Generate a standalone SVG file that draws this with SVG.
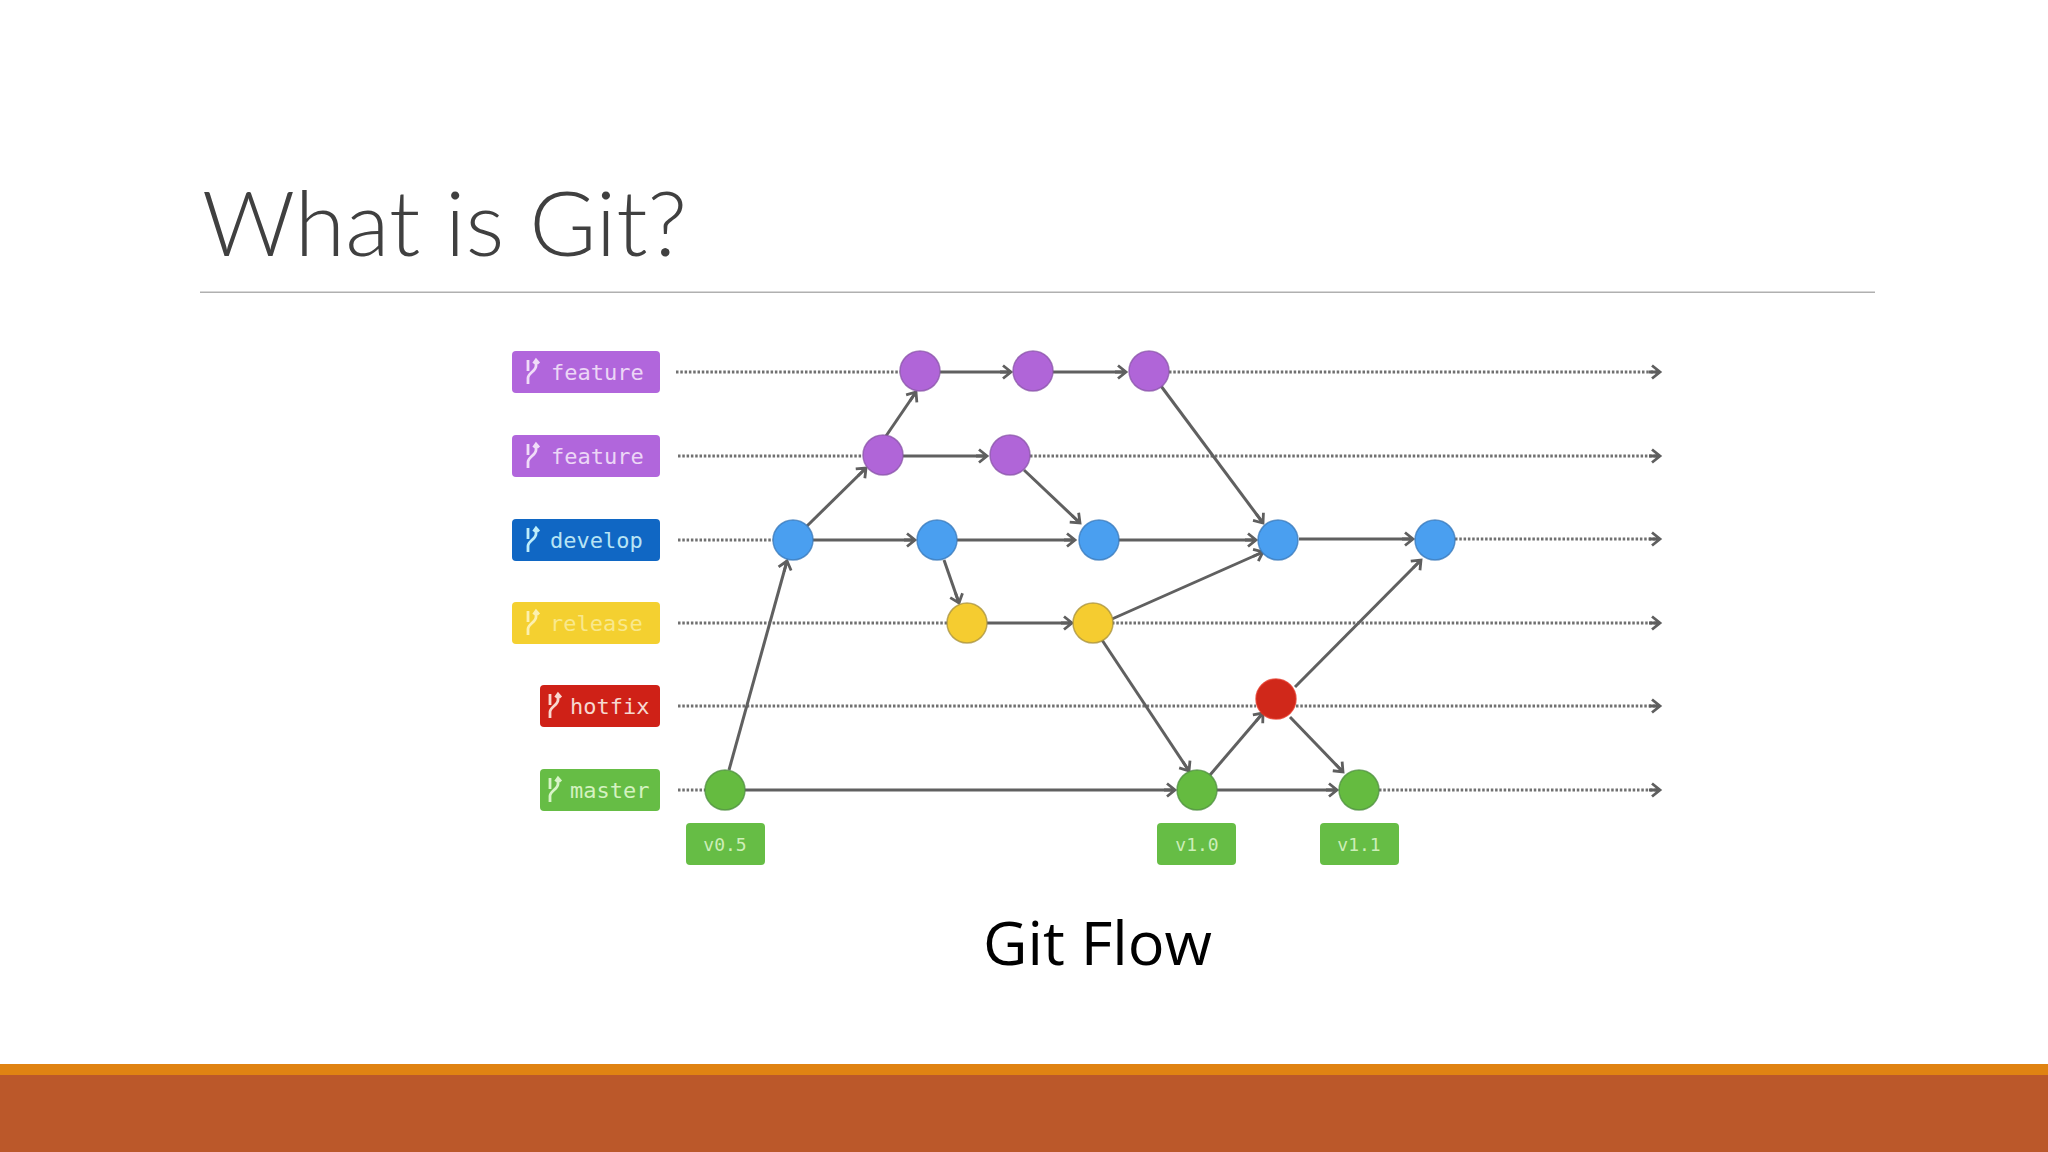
<svg xmlns="http://www.w3.org/2000/svg" width="2048" height="1152" viewBox="0 0 2048 1152">
<defs>
<marker id="arrow" markerUnits="userSpaceOnUse" markerWidth="18" markerHeight="18" refX="14" refY="9" orient="auto">
<path d="M6 2.500L14 9L6 15.500M3 9H14" fill="none" stroke="#5f5f5f" stroke-width="2.800"/>
</marker>
<path id="br" d="M-4 -12V-1M4 -11V-6C4 -1 -4 1 -4 6V12M1.500 -8.500L4 -12L7 -8.500" fill="none" stroke-width="2.800"/>
</defs>
<style>
.solid{fill:none;stroke:#606060;stroke-width:3;marker-end:url(#arrow)}
.dot{fill:none;stroke:#707070;stroke-width:3;stroke-dasharray:2.500 1.800}
.end{marker-end:url(#arrow)}
.lbl{font-family:"DejaVu Sans Mono","Liberation Mono",monospace;font-size:22px}
.tag{font-family:"DejaVu Sans Mono","Liberation Mono",monospace;font-size:18px;fill:#cdeeb8;text-anchor:middle}
.c{stroke-width:1.500;stroke-opacity:.75}
.purple{fill:#b065d8;stroke:#8a55a8}
.blue{fill:#4a9ff0;stroke:#3a78b8}
.yellow{fill:#f5cc30;stroke:#a59040}
.red{fill:#d0281a;stroke:#e03020}
.green{fill:#65bb40;stroke:#4f8f40}
</style>
<rect width="2048" height="1152" fill="#fff"/>
<text x="202" y="256" font-family="Lato, 'Open Sans', sans-serif" font-weight="300" font-size="90" fill="#404040" textLength="485" lengthAdjust="spacingAndGlyphs">What is Git?</text>
<rect x="200" y="291.500" width="1675" height="1.500" fill="#b0b0b0"/>
<g id="connectors">
<path class="dot" d="M676 372H900"/><path class="solid" d="M940 372H1011"/><path class="solid" d="M1053 372H1126"/><path class="dot end" d="M1169 372H1660"/>
<path class="dot" d="M678 456H863"/><path class="solid" d="M903 456H987"/><path class="dot end" d="M1030 456H1660"/>
<path class="dot" d="M678 540H773"/><path class="solid" d="M813 540H915"/><path class="solid" d="M957 540H1075"/><path class="solid" d="M1118 540H1256"/><path class="solid" d="M1299 539H1413"/><path class="dot end" d="M1455 539H1660"/>
<path class="dot" d="M678 623H947"/><path class="solid" d="M987 623H1072"/><path class="dot end" d="M1112 623H1660"/>
<path class="dot" d="M678 706H1256"/><path class="dot end" d="M1296 706H1660"/>
<path class="dot" d="M678 790H705"/><path class="solid" d="M745 790H1175"/><path class="solid" d="M1217 790H1337"/><path class="dot end" d="M1379 790H1660"/>
<path class="solid" d="M729 770L787 561"/>
<path class="solid" d="M807 526L866 468"/>
<path class="solid" d="M886 436L916 392"/>
<path class="solid" d="M1024 470L1080 523"/>
<path class="solid" d="M1161 386L1263 523"/>
<path class="solid" d="M944 560L959 603"/>
<path class="solid" d="M1112 619L1263 552"/>
<path class="solid" d="M1102 640L1189 771"/>
<path class="solid" d="M1210 775L1263 713"/>
<path class="solid" d="M1290 717L1343 772"/>
<path class="solid" d="M1295 687L1421 560"/>
</g>
<g id="label-feature-1"><rect x="512" y="351" width="148" height="42" rx="4" fill="#b166dc"/><use href="#br" x="532" y="372" stroke="#f0dcf8"/><text class="lbl" x="551" y="380" fill="#ecd6f6">feature</text></g>
<g id="label-feature-2"><rect x="512" y="435" width="148" height="42" rx="4" fill="#b166dc"/><use href="#br" x="532" y="456" stroke="#f0dcf8"/><text class="lbl" x="551" y="464" fill="#ecd6f6">feature</text></g>
<g id="label-develop"><rect x="512" y="519" width="148" height="42" rx="4" fill="#1067c4"/><use href="#br" x="532" y="540" stroke="#bfeefa"/><text class="lbl" x="550" y="548" fill="#b8e4f4">develop</text></g>
<g id="label-release"><rect x="512" y="602" width="148" height="42" rx="4" fill="#f4d030"/><use href="#br" x="532" y="623" stroke="#fcf0b0"/><text class="lbl" x="550" y="631" fill="#f9e88c">release</text></g>
<g id="label-hotfix"><rect x="540" y="685" width="120" height="42" rx="4" fill="#cf2117"/><use href="#br" x="554" y="706" stroke="#f8d8d0"/><text class="lbl" x="570" y="714" fill="#f6d8d0">hotfix</text></g>
<g id="label-master"><rect x="540" y="769" width="120" height="42" rx="4" fill="#66bd45"/><use href="#br" x="554" y="790" stroke="#d8f4c8"/><text class="lbl" x="570" y="798" fill="#d4f2c0">master</text></g>
<g id="tag-v05"><rect x="686" y="823" width="79" height="42" rx="4" fill="#66bd45"/><text class="tag" x="725" y="851">v0.5</text></g>
<g id="tag-v10"><rect x="1157" y="823" width="79" height="42" rx="4" fill="#66bd45"/><text class="tag" x="1197" y="851">v1.0</text></g>
<g id="tag-v11"><rect x="1320" y="823" width="79" height="42" rx="4" fill="#66bd45"/><text class="tag" x="1359" y="851">v1.1</text></g>
<g id="node-f1-1"><circle class="c purple" cx="920" cy="371" r="20"/></g>
<g id="node-f1-2"><circle class="c purple" cx="1033" cy="371" r="20"/></g>
<g id="node-f1-3"><circle class="c purple" cx="1149" cy="371" r="20"/></g>
<g id="node-f2-1"><circle class="c purple" cx="883" cy="455" r="20"/></g>
<g id="node-f2-2"><circle class="c purple" cx="1010" cy="455" r="20"/></g>
<g id="node-d-1"><circle class="c blue" cx="793" cy="540" r="20"/></g>
<g id="node-d-2"><circle class="c blue" cx="937" cy="540" r="20"/></g>
<g id="node-d-3"><circle class="c blue" cx="1099" cy="540" r="20"/></g>
<g id="node-d-4"><circle class="c blue" cx="1278" cy="540" r="20"/></g>
<g id="node-d-5"><circle class="c blue" cx="1435" cy="540" r="20"/></g>
<g id="node-r-1"><circle class="c yellow" cx="967" cy="623" r="20"/></g>
<g id="node-r-2"><circle class="c yellow" cx="1093" cy="623" r="20"/></g>
<g id="node-h-1"><circle class="c red" cx="1276" cy="699" r="20"/></g>
<g id="node-m-1"><circle class="c green" cx="725" cy="790" r="20"/></g>
<g id="node-m-2"><circle class="c green" cx="1197" cy="790" r="20"/></g>
<g id="node-m-3"><circle class="c green" cx="1359" cy="790" r="20"/></g>
<text x="983" y="965" font-family="'Open Sans', Lato, sans-serif" font-size="60" fill="#000" textLength="229" lengthAdjust="spacingAndGlyphs">Git Flow</text>
<rect y="1064" width="2048" height="11" fill="#e08312"/>
<rect y="1075" width="2048" height="77" fill="#bb582a"/>
</svg>
